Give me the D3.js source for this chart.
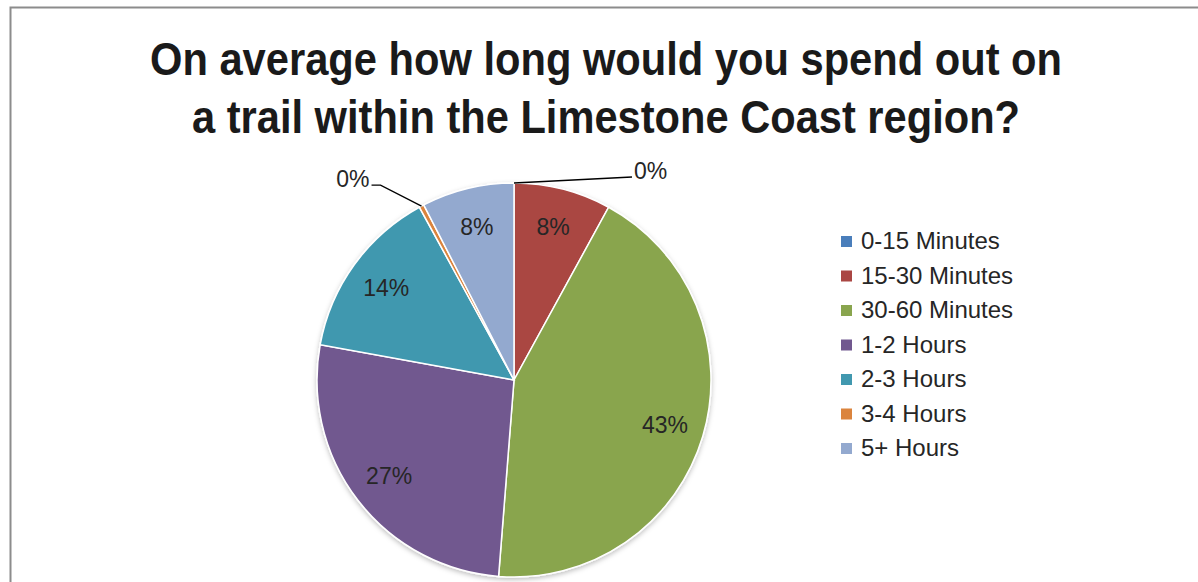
<!DOCTYPE html>
<html>
<head>
<meta charset="utf-8">
<script src="https://cdn.jsdelivr.net/npm/d3@7"></script>
<style>
  body { margin: 0; background: #fff; }
  text { font-family: "Liberation Sans", Arial, sans-serif; }
</style>
</head>
<body>
<svg id="chart" width="1198" height="582"></svg>
<script>
// data
var categories = ["0-15 Minutes", "15-30 Minutes", "30-60 Minutes", "1-2 Hours", "2-3 Hours", "3-4 Hours", "5+ Hours"];
var values = [0, 8, 43.4, 26.7, 14.2, 0.4, 7.6];
var colors = ["#4a7ebb", "#aa4643", "#89a54e", "#71588f", "#4198af", "#db843d", "#93a9cf"];
var titleLines = ["On average how long would you spend out on", "a trail within the Limestone Coast region?"];
var titleWidths = [912, 828];

var width = 1198, height = 582;
var cx = 514, cy = 380, radius = 197;

var svg = d3.select("#chart");

// frame
svg.append("path")
  .attr("d", "M10.5," + (height + 2) + "V7.5H" + (width + 2))
  .attr("fill", "none")
  .attr("stroke", "#8c8c8c")
  .attr("stroke-width", 2);

// title (narrow bold face, squeezed to the measured widths)
svg.append("g").selectAll("text").data(titleLines).enter()
  .append("text")
  .attr("x", 606)
  .attr("y", function(d, i) { return 75 + i * 58; })
  .attr("text-anchor", "middle")
  .attr("font-size", 47)
  .attr("font-weight", "bold")
  .attr("fill", "#1a1a1a")
  .attr("textLength", function(d, i) { return titleWidths[i]; })
  .attr("lengthAdjust", "spacingAndGlyphs")
  .text(function(d) { return d; });

var defs = svg.append("defs");
var f = defs.append("filter").attr("id", "shadow").attr("x", "-10%").attr("y", "-10%").attr("width", "120%").attr("height", "120%");
f.append("feDropShadow").attr("dx", 0).attr("dy", 2).attr("stdDeviation", 2.5).attr("flood-color", "#000").attr("flood-opacity", 0.25);

var total = d3.sum(values);
var pie = d3.pie().sort(null).value(function(d) { return d; });
var arcs = pie(values);

var arc = d3.arc().innerRadius(0).outerRadius(radius);
var labelArc = d3.arc().innerRadius(radius * 0.8).outerRadius(radius * 0.8);

var g = svg.append("g").attr("transform", "translate(" + cx + "," + cy + ")");

g.append("g").attr("filter", "url(#shadow)")
  .selectAll("path").data(arcs).enter()
  .append("path")
  .attr("d", arc)
  .attr("fill", function(d, i) { return colors[i]; })
  .attr("stroke", "#fff")
  .attr("stroke-width", 1.5);

function pct(v) { return Math.round(v / total * 100) + "%"; }

// labels inside big slices
g.selectAll("text.inside").data(arcs.filter(function(d) { return d.value / total > 0.02; })).enter()
  .append("text")
  .attr("class", "inside")
  .attr("transform", function(d) { return "translate(" + labelArc.centroid(d) + ")"; })
  .attr("dy", "0.35em")
  .attr("text-anchor", "middle")
  .attr("font-size", 23)
  .attr("fill", "#262626")
  .text(function(d) { return pct(d.value); });

// outside labels with leader lines for tiny slices
var outside = [
  { i: 0, elbow: [118, -6], run: 0, side: 1 },
  { i: 5, elbow: [-41, -21], run: -9, side: -1 }
];
outside.forEach(function(o) {
  var d = arcs[o.i];
  var a = (d.startAngle + d.endAngle) / 2;
  var p0 = [Math.sin(a) * radius, -Math.cos(a) * radius];
  var p1 = [p0[0] + o.elbow[0], p0[1] + o.elbow[1]];
  var p2 = [p1[0] + o.run, p1[1]];
  g.append("polyline")
    .attr("points", [p0, p1, p2].map(function(p) { return p.join(","); }).join(" "))
    .attr("fill", "none")
    .attr("stroke", "#000")
    .attr("stroke-width", 1.3);
  g.append("text")
    .attr("x", p2[0] + o.side * 2)
    .attr("y", p2[1])
    .attr("dy", "0.1em")
    .attr("text-anchor", o.side > 0 ? "start" : "end")
    .attr("font-size", 23)
    .attr("fill", "#262626")
    .text(pct(d.value));
});

// legend
var legend = svg.append("g").attr("transform", "translate(841,241)");
var item = legend.selectAll("g").data(categories).enter()
  .append("g")
  .attr("transform", function(d, i) { return "translate(0," + (i * 34.5) + ")"; });
item.append("rect")
  .attr("x", 0).attr("y", -5)
  .attr("width", 11).attr("height", 11)
  .attr("fill", function(d, i) { return colors[i]; });
item.append("text")
  .attr("x", 20)
  .attr("y", 0)
  .attr("dy", "0.35em")
  .attr("font-size", 24)
  .attr("fill", "#262626")
  .text(function(d) { return d; });
</script>
</body>
</html>
